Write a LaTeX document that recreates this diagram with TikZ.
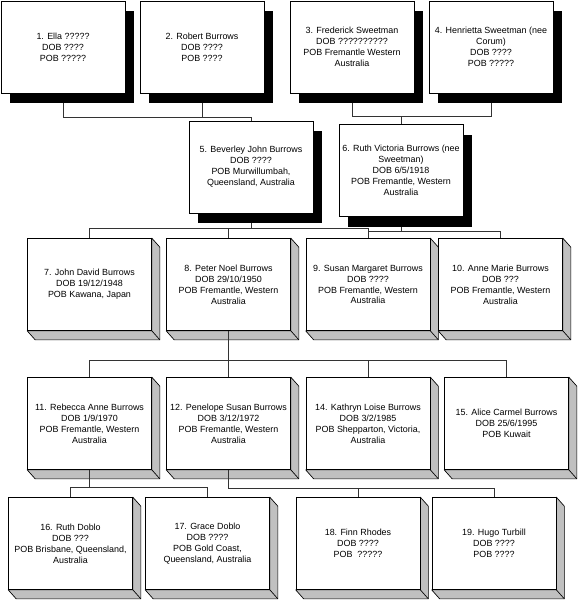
\documentclass[tikz,border=0pt]{standalone}
\usepackage{fontspec}
\setmainfont{Liberation Sans}
\usepackage{tikz}
\usetikzlibrary{shadows}
\definecolor{sidegray}{RGB}{192,192,192}
\pgfdeclarelayer{faces}
\pgfdeclarelayer{links}
\pgfsetlayers{faces,links,main}

\tikzset{
  person/.style={draw, fill=white, align=center, inner sep=0.5pt, minimum width=93pt, minimum height=69pt, font=\fontsize{6.7}{8.2}\selectfont, line width=0.5pt},
  flatbox/.style={person, drop shadow={shadow xshift=6.75pt, shadow yshift=-7.5pt, fill=black, opacity=1}},
  side/.style={fill=sidegray, draw, line width=0.5pt, line join=round},
  link/.style={draw=black!80, line width=0.5pt},
}

\begin{document}
\begin{tikzpicture}[x=0.75pt,y=-0.75pt]
\useasboundingbox (0,0) rectangle (578,601);
% grandparents
\node[flatbox] (p1) at (63,47) {1. Ella ?????\\DOB ????\\POB ?????};
\node[flatbox] (p2) at (202,47) {2. Robert Burrows\\DOB ????\\POB ????};
\node[flatbox] (p3) at (352,47) {3. Frederick Sweetman\\DOB ??????????\\POB Fremantle Western\\Australia};
\node[flatbox] (p4) at (491,47) {4. Henrietta Sweetman (nee\\Corum)\\DOB ????\\POB ?????};
% parents
\node[flatbox] (p5) at (251,167) {5. Beverley John Burrows\\DOB ????\\POB Murwillumbah,\\Queensland, Australia};
\node[flatbox] (p6) at (401,170.5) {6. Ruth Victoria Burrows (nee\\Sweetman)\\DOB 6/5/1918\\POB Fremantle, Western\\Australia};
% children
\node[person] (p7) at (89.5,284.5) {7. John David Burrows\\DOB 19/12/1948\\POB Kawana, Japan};
\node[person] (p8) at (228.5,284.5) {8. Peter Noel Burrows\\DOB 29/10/1950\\POB Fremantle, Western\\Australia};
\node[person] (p9) at (368,284.5) {9. Susan Margaret Burrows\\DOB ????\\POB Fremantle, Western\\Australia};
\node[person] (p10) at (500.5,284.5) {10. Anne Marie Burrows\\DOB ???\\POB Fremantle, Western\\Australia};
% grandchildren
\node[person] (p11) at (89.5,423.5) {11. Rebecca Anne Burrows\\DOB 1/9/1970\\POB Fremantle, Western\\Australia};
\node[person] (p12) at (228.5,423.5) {12. Penelope Susan Burrows\\DOB 3/12/1972\\POB Fremantle, Western\\Australia};
\node[person] (p14) at (368,423.5) {14. Kathryn Loise Burrows\\DOB 3/2/1985\\POB Shepparton, Victoria,\\Australia};
\node[person] (p15) at (506.5,423.5) {15. Alice Carmel Burrows\\DOB 25/6/1995\\POB Kuwait};
% partners
\node[person] (p16) at (70.5,543.5) {16. Ruth Doblo\\DOB ???\\POB Brisbane, Queensland,\\Australia};
\node[person] (p17) at (207.5,543.5) {17. Grace Doblo\\DOB ????\\POB Gold Coast,\\Queensland, Australia};
\node[person] (p18) at (358,543.5) {18. Finn Rhodes\\DOB ????\\POB~ ?????};
\node[person] (p19) at (494,543.5) {19. Hugo Turbill\\DOB ????\\POB ????};

% grey sides of the raised boxes
\begin{pgfonlayer}{faces}
\foreach \n in {p7,p8,p9,p10,p11,p12,p14,p15,p16,p17,p18,p19}{
  \filldraw[side] (\n.north east) -- ([shift={(8,9)}]\n.north east) -- ([shift={(8,9)}]\n.south east)
    -- ([shift={(8,9)}]\n.south west) -- (\n.south west) -- (\n.south east) -- cycle;
  \draw[side] (\n.south east) -- ++(8,9);
}
\end{pgfonlayer}

% connectors
\begin{pgfonlayer}{links}
\foreach \c in {p1,p2} \draw[link] (\c.south) -- ++(0,24) -| (p5.north);
\foreach \c in {p3,p4} \draw[link] (\c.south) -- ++(0,23) -| (p6.north);
\foreach \c in {p7,p8,p9} \draw[link] (p5.south) -- ++(0,15) -| (\c.north);
\foreach \c in {p9,p10} \draw[link] (p6.south) -- ++(0,14.5) -| (\c.north);
\foreach \c in {p11,p12,p14,p15} \draw[link] (p8.south) -- ++(0,29.5) -| (\c.north);
\foreach \c in {p16,p17} \draw[link] (p11.south) -- ++(0,17.5) -| (\c.north);
\foreach \c in {p18,p19} \draw[link] (p12.south) -- ++(0,18.5) -| (\c.north);
\end{pgfonlayer}
\end{tikzpicture}
\end{document}
